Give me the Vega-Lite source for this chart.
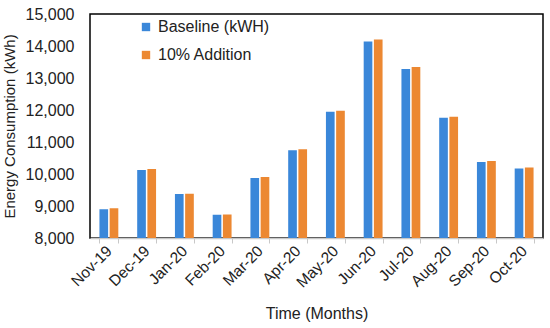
{
  "$schema": "https://vega.github.io/schema/vega-lite/v6.json",
  "width": 453,
  "height": 224,
  "autosize": {"type": "none"},
  "padding": {"left": 90, "top": 14, "right": 7, "bottom": 90},
  "config": {
    "font": "Liberation Sans",
    "view": {"stroke": "#000000", "strokeWidth": 1.5},
    "axis": {"labelColor": "#222222", "titleColor": "#222222", "labelFont": "Liberation Sans", "titleFont": "Liberation Sans"}
  },
  "data": {"values": [
    {"month": "Nov-19", "series": "Baseline (kWH)", "value": 8897},
    {"month": "Nov-19", "series": "10% Addition", "value": 8928},
    {"month": "Dec-19", "series": "Baseline (kWH)", "value": 10125},
    {"month": "Dec-19", "series": "10% Addition", "value": 10156},
    {"month": "Jan-20", "series": "Baseline (kWH)", "value": 9375},
    {"month": "Jan-20", "series": "10% Addition", "value": 9385},
    {"month": "Feb-20", "series": "Baseline (kWH)", "value": 8728},
    {"month": "Feb-20", "series": "10% Addition", "value": 8735},
    {"month": "Mar-20", "series": "Baseline (kWH)", "value": 9875},
    {"month": "Mar-20", "series": "10% Addition", "value": 9906},
    {"month": "Apr-20", "series": "Baseline (kWH)", "value": 10740},
    {"month": "Apr-20", "series": "10% Addition", "value": 10770},
    {"month": "May-20", "series": "Baseline (kWH)", "value": 11947},
    {"month": "May-20", "series": "10% Addition", "value": 11978},
    {"month": "Jun-20", "series": "Baseline (kWH)", "value": 14144},
    {"month": "Jun-20", "series": "10% Addition", "value": 14206},
    {"month": "Jul-20", "series": "Baseline (kWH)", "value": 13281},
    {"month": "Jul-20", "series": "10% Addition", "value": 13344},
    {"month": "Aug-20", "series": "Baseline (kWH)", "value": 11759},
    {"month": "Aug-20", "series": "10% Addition", "value": 11790},
    {"month": "Sep-20", "series": "Baseline (kWH)", "value": 10375},
    {"month": "Sep-20", "series": "10% Addition", "value": 10406},
    {"month": "Oct-20", "series": "Baseline (kWH)", "value": 10175},
    {"month": "Oct-20", "series": "10% Addition", "value": 10206}
  ]},
  "mark": {"type": "bar", "clip": true},
  "encoding": {
    "x": {
      "field": "month", "type": "nominal", "sort": null,
      "scale": {"paddingInner": 0.5, "paddingOuter": 0.25},
      "axis": {
        "title": "Time (Months)", "titleFontSize": 16, "titleFontWeight": "normal", "titlePadding": 15,
        "labelAngle": -45, "labelAlign": "right", "labelBaseline": "middle", "labelFontSize": 15.5, "labelPadding": 5,
        "domainColor": "#c8c8c8", "domainWidth": 1.5, "tickColor": "#c8c8c8", "tickSize": 5, "tickBand": "extent"
      }
    },
    "xOffset": {"field": "series", "type": "nominal", "sort": ["Baseline (kWH)", "10% Addition"], "scale": {"paddingInner": 0.15}},
    "y": {
      "field": "value", "type": "quantitative",
      "scale": {"domain": [8000, 15000], "zero": false},
      "axis": {
        "title": "Energy Consumption (kWh)", "titleFontSize": 15, "titleFontWeight": "normal", "titlePadding": 8,
        "values": [8000, 9000, 10000, 11000, 12000, 13000, 14000, 15000], "format": ",.0f",
        "labelFontSize": 16, "labelPadding": 16, "ticks": false, "domain": false, "grid": false
      }
    },
    "color": {
      "field": "series", "type": "nominal", "sort": ["Baseline (kWH)", "10% Addition"],
      "scale": {"domain": ["Baseline (kWH)", "10% Addition"], "range": ["#3A87D9", "#EC8832"]},
      "legend": {
        "title": null, "orient": "none", "legendX": 48, "legendY": 5,
        "symbolType": "square", "symbolSize": 70, "symbolStrokeWidth": 0,
        "labelFontSize": 16, "labelColor": "#222222", "rowPadding": 12, "labelOffset": 4
      }
    }
  }
}
